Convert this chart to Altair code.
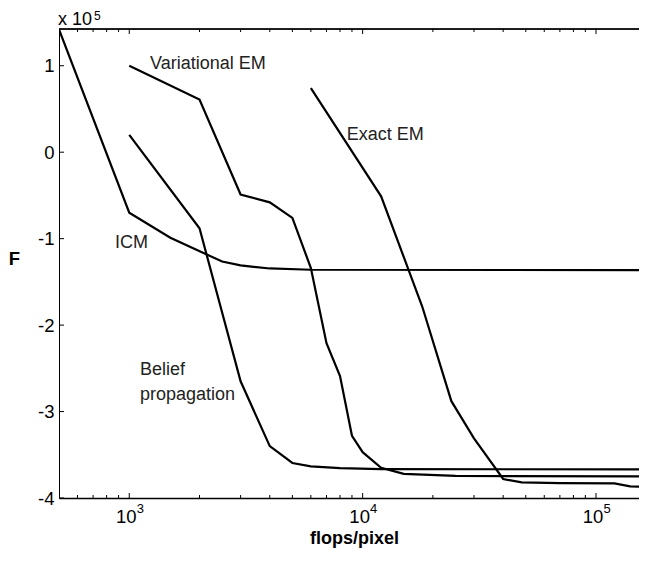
import altair as alt
import pandas as pd

# ---- data (F in units of 1e5) ----
icm_x = [500, 1000, 1500, 2500, 3000, 4000, 6000, 165000]
icm_y = [1.42, -0.70, -0.99, -1.265, -1.31, -1.345, -1.36, -1.365]

bp_x = [1000, 2000, 3000, 4000, 5000, 6000, 8000, 12000, 165000]
bp_y = [0.20, -0.88, -2.65, -3.40, -3.595, -3.635, -3.655, -3.665, -3.67]

vem_x = [1000, 2000, 3000, 4000, 5000, 6000, 7000, 8000, 9000, 10000, 12000, 15000, 25000, 165000]
vem_y = [1.00, 0.61, -0.49, -0.58, -0.76, -1.34, -2.21, -2.59, -3.28, -3.47, -3.65, -3.72, -3.745, -3.75]

eem_x = [6000, 12000, 18000, 24000, 30000, 40000, 48000, 70000, 120000, 140000, 165000]
eem_y = [0.74, -0.51, -1.785, -2.88, -3.31, -3.78, -3.82, -3.827, -3.83, -3.865, -3.87]

label_text = ["Variational EM", "Exact EM", "ICM", "Belief", "propagation"]
label_x = [1227, 8540, 868, 1111, 1111]
label_y = [1.02, 0.20, -1.05, -2.525, -2.805]

xtick_major = [1000, 10000, 100000]
xtick_exp = ["3", "4", "5"]
xtick_minor = [600, 700, 800, 900,
               2000, 3000, 4000, 5000, 6000, 7000, 8000, 9000,
               20000, 30000, 40000, 50000, 60000, 70000, 80000, 90000]
ytick_vals = [-4, -3, -2, -1, 0, 1]

W, H = 580, 469
FONT = "Liberation Sans"

rows = []
for name, xs_, ys_ in [("ICM", icm_x, icm_y), ("BP", bp_x, bp_y),
                       ("VEM", vem_x, vem_y), ("EEM", eem_x, eem_y)]:
    for i, (a, b) in enumerate(zip(xs_, ys_)):
        rows.append({"series": name, "flops": a, "F": b, "order": i})
lines_df = pd.DataFrame(rows)

labels_df = pd.DataFrame({"flops": label_x, "F": label_y, "text": label_text})
major_df = pd.DataFrame({"flops": xtick_major, "exp": xtick_exp})
minor_df = pd.DataFrame({"flops": xtick_minor})
ytick_df = pd.DataFrame({"F": ytick_vals})

xscale = alt.Scale(type="log", domain=[500, 152800], nice=False)
yscale = alt.Scale(domain=[-4, 1.425], nice=False, zero=False)

xaxis = alt.Axis(title="flops/pixel", labels=False, ticks=False, grid=False,
                 domain=True, domainColor="black", domainWidth=1.5,
                 titleFont=FONT, titleFontSize=18, titleFontWeight="bold",
                 titleColor="black", titleX=295, titleY=45, titleBaseline="alphabetic")
yaxis = alt.Axis(title="F", values=ytick_vals, ticks=False, grid=False,
                 domain=True, domainColor="black", domainWidth=1,
                 labelFont=FONT, labelFontSize=18.5, labelColor="black",
                 labelPadding=5,
                 labelExpr="datum.value < 0 ? '-' + abs(datum.value) : '' + datum.value",
                 titleFont=FONT, titleFontSize=18.5, titleFontWeight="bold",
                 titleColor="black", titleAngle=0, titleX=-45, titleY=229,
                 titleAlign="center", titleBaseline="middle")


def X():
    return alt.X("flops:Q", scale=xscale, axis=xaxis)


def Y():
    return alt.Y("F:Q", scale=yscale, axis=yaxis)


lines = alt.Chart(lines_df).mark_line(color="black", strokeWidth=2.2, clip=True).encode(
    x=X(), y=Y(), detail="series:N", order="order:Q")

labels = alt.Chart(labels_df).mark_text(
    align="left", baseline="middle", font=FONT, fontSize=18, color="#222222"
).encode(x=X(), y=Y(), text="text:N")

top_border = alt.Chart(major_df).mark_rule(color="black", strokeWidth=1).encode(
    x=alt.value(0), x2=alt.value(W), y=alt.value(0))

bot_major = alt.Chart(major_df).mark_rule(color="black", strokeWidth=1).encode(
    x=X(), y=alt.value(H), y2=alt.value(H - 5))
bot_minor = alt.Chart(minor_df).mark_rule(color="black", strokeWidth=1).encode(
    x=X(), y=alt.value(H), y2=alt.value(H - 3))
top_major = alt.Chart(major_df).mark_rule(color="black", strokeWidth=1).encode(
    x=X(), y=alt.value(0), y2=alt.value(5))
top_minor = alt.Chart(minor_df).mark_rule(color="black", strokeWidth=1).encode(
    x=X(), y=alt.value(0), y2=alt.value(3))
yticks = alt.Chart(ytick_df).mark_rule(color="black", strokeWidth=1).encode(
    y=Y(), x=alt.value(0), x2=alt.value(5))

xlab_base = alt.Chart(major_df).mark_text(
    align="center", baseline="alphabetic", font=FONT, fontSize=18.5, color="black", dx=-3
).encode(x=X(), y=alt.value(H + 25), text=alt.value("10"))
xlab_exp = alt.Chart(major_df).mark_text(
    align="center", baseline="alphabetic", font=FONT, fontSize=13, color="black", dx=11
).encode(x=X(), y=alt.value(H + 15), text="exp:N")

mult_base = alt.Chart(major_df.head(1)).mark_text(
    align="left", baseline="alphabetic", font=FONT, fontSize=18, color="black"
).encode(x=alt.value(-1), y=alt.value(-4), text=alt.value("x 10"))
mult_exp = alt.Chart(major_df.head(1)).mark_text(
    align="left", baseline="alphabetic", font=FONT, fontSize=12, color="black"
).encode(x=alt.value(35), y=alt.value(-9), text=alt.value("5"))

chart = alt.layer(
    lines, labels, top_border, bot_major, bot_minor, top_major, top_minor, yticks,
    xlab_base, xlab_exp, mult_base, mult_exp
).properties(
    width=W, height=H,
    autosize=alt.AutoSizeParams(type="none"),
    padding={"left": 51, "top": 21, "right": 0, "bottom": 50},
).configure_view(stroke=None).configure(background="white")

chart.save("out.html", embed_options={"renderer": "svg", "actions": False})
